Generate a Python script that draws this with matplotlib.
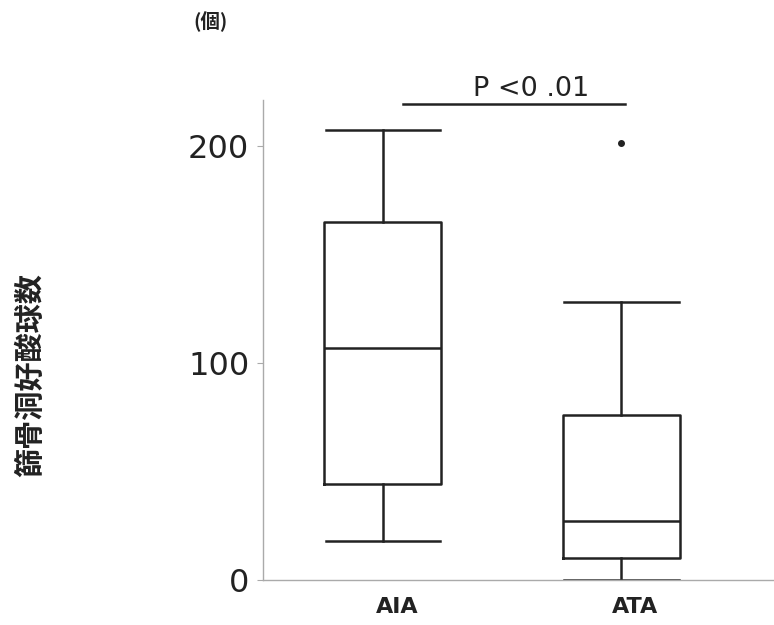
import matplotlib.pyplot as plt
import matplotlib.transforms as mtransforms

# box statistics
groups = ["AIA", "ATA"]
whislo = [18, 0]
q1 = [44, 10]
med = [107, 27]
q3 = [165, 76]
whishi = [207, 128]
fliers = [[], [201]]
yticks = [0, 100, 200]

plt.rcParams['font.family'] = ['DejaVu Sans']
jp = ['Noto Sans CJK JP', 'DejaVu Sans']

fig = plt.figure(figsize=(7.74, 6.25), dpi=100)
ax = fig.add_axes([0.340, 0.072, 0.66, 0.768])

stats = []
for i, g in enumerate(groups):
    stats.append({"label": g, "whislo": whislo[i], "q1": q1[i], "med": med[i],
                  "q3": q3[i], "whishi": whishi[i], "fliers": fliers[i]})

line = {"color": "#222222", "linewidth": 1.8}
ax.bxp(stats, positions=[1, 2], widths=0.49, showfliers=True,
       boxprops=line, medianprops=line, whiskerprops=line, capprops=line,
       capwidths=0.48,
       flierprops={"marker": "o", "markersize": 4, "markerfacecolor": "#222222",
                   "markeredgecolor": "#222222"})

ax.set_xlim(0.498, 2.64)
ax.set_ylim(0, 221)
ax.set_yticks(yticks)
ax.tick_params(axis='y', labelsize=23, length=4, color='#aaaaaa', pad=6,
               labelcolor='#222222')
ax.tick_params(axis='x', length=0, pad=12)
shift = mtransforms.ScaledTranslation(0.14, 0, fig.dpi_scale_trans)
for lbl in ax.get_xticklabels():
    lbl.set_fontweight('bold')
    lbl.set_fontsize(16)
    lbl.set_color('#222222')
    lbl.set_transform(lbl.get_transform() + shift)

for side in ["top", "right"]:
    ax.spines[side].set_visible(False)
for side in ["left", "bottom"]:
    ax.spines[side].set_color('#aaaaaa')
    ax.spines[side].set_linewidth(1.0)

# significance bar
ax.plot([1.084, 2.017], [219, 219], color='#222222', linewidth=1.8, clip_on=False)
ax.text(1.62, 220.3, "P <0 .01", ha='center', va='bottom', fontsize=19.5,
        color='#222222', clip_on=False)

fig.text(0.039, 0.40, "篩骨洞好酸球数", family=jp, fontsize=21, fontweight='bold',
         rotation=90, ha='center', va='center', color='#222222')
fig.text(0.272, 0.965, "(個)", family=jp, fontsize=14, fontweight='bold',
         ha='center', va='center', color='#222222')

fig.savefig("out.png", dpi=100)
